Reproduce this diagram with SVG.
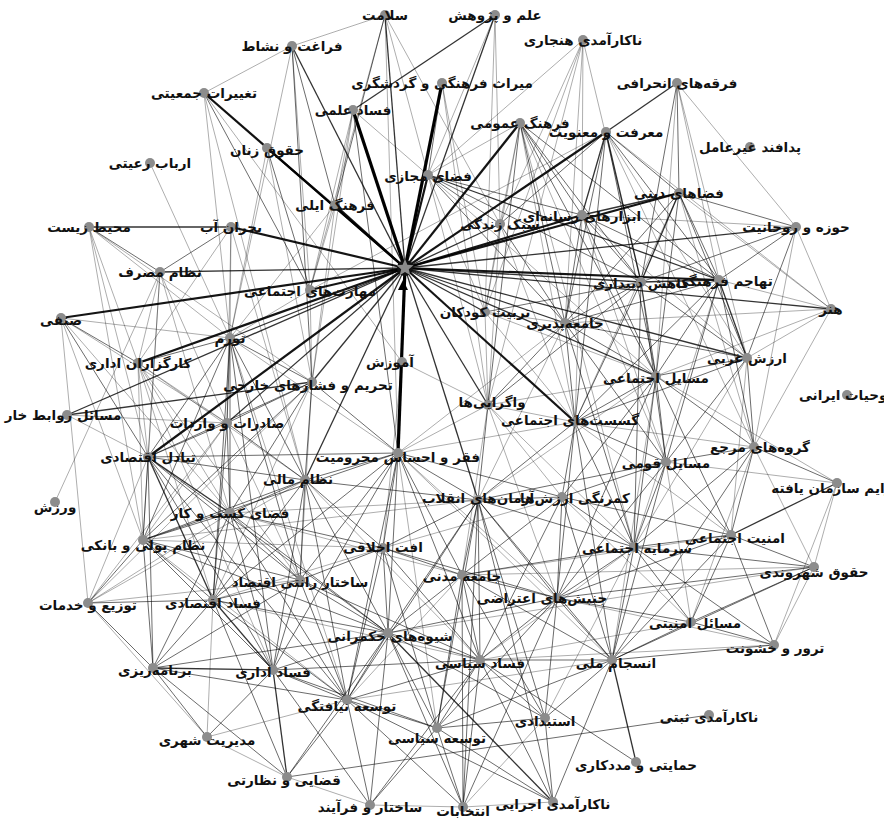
<svg xmlns="http://www.w3.org/2000/svg" width="884" height="821" viewBox="0 0 884 821">
<style>
.bg{fill:#fff}
#edges path{fill:none;stroke:#000}
.e0 path{stroke-opacity:.32;stroke-width:1}
.e1 path{stroke-opacity:.58;stroke-width:1}
.e2 path{stroke-opacity:.8;stroke-width:1.3}
.e3 path{stroke-opacity:.92;stroke-width:2.2}
.e4 path{stroke-opacity:1;stroke-width:3.2}
.nd circle{fill:#8c8c8c}
.nd text{font-family:"DejaVu Sans","Noto Sans",sans-serif;font-weight:bold;font-size:13.5px;fill:#111;text-anchor:middle}
</style>
<rect class="bg" x="0" y="0" width="884" height="821"/>
<g id="edges">
<g class="e0">
<path d="M385 15L292 46"/><path d="M385 15L310 290"/><path d="M385 15L428 175"/><path d="M385 15L398 453"/><path d="M385 15L500 224"/>
<path d="M495 15L428 175"/><path d="M495 15L500 224"/><path d="M495 15L485 312"/>
<path d="M292 46L204 93"/><path d="M292 46L230 338"/><path d="M292 46L310 290"/>
<path d="M583 40L428 175"/><path d="M583 40L500 224"/><path d="M583 40L485 312"/><path d="M583 40L565 323"/><path d="M583 40L582 215"/><path d="M583 40L488 405"/><path d="M583 40L641 282"/>
<path d="M204 93L267 148"/><path d="M204 93L230 338"/><path d="M204 93L305 480"/><path d="M204 93L402 362"/>
<path d="M442 83L488 405"/><path d="M442 83L485 312"/>
<path d="M677 83L719 280"/><path d="M677 83L796 227"/><path d="M677 83L747 358"/><path d="M677 83L656 376"/>
<path d="M353 110L335 205"/><path d="M353 110L310 290"/><path d="M353 110L312 382"/><path d="M353 110L428 175"/>
<path d="M520 123L428 175"/><path d="M520 123L500 224"/><path d="M520 123L485 312"/><path d="M520 123L575 422"/><path d="M520 123L666 462"/><path d="M520 123L634 547"/>
<path d="M606 132L747 358"/><path d="M606 132L754 447"/><path d="M606 132L831 309"/><path d="M606 132L310 290"/>
<path d="M267 148L335 205"/><path d="M267 148L312 382"/><path d="M267 148L230 338"/>
<path d="M150 163L230 338"/>
<path d="M428 175L485 312"/><path d="M428 175L488 405"/><path d="M428 175L656 376"/>
<path d="M335 205L310 290"/><path d="M335 205L230 338"/><path d="M335 205L312 382"/>
<path d="M679 193L831 309"/><path d="M679 193L754 447"/><path d="M679 193L575 422"/>
<path d="M582 215L747 358"/><path d="M582 215L575 422"/><path d="M582 215L666 462"/>
<path d="M500 224L485 312"/><path d="M500 224L488 405"/><path d="M500 224L575 422"/>
<path d="M796 227L831 309"/><path d="M796 227L754 447"/><path d="M796 227L582 215"/>
<path d="M89 227L138 363"/><path d="M89 227L148 457"/><path d="M89 227L143 540"/><path d="M89 227L312 382"/><path d="M89 227L230 338"/>
<path d="M231 227L230 338"/><path d="M231 227L138 363"/><path d="M231 227L305 480"/><path d="M231 227L227 423"/>
<path d="M160 272L138 363"/><path d="M160 272L148 457"/><path d="M160 272L230 513"/><path d="M160 272L143 540"/><path d="M160 272L55 502"/><path d="M160 272L227 423"/>
<path d="M310 290L230 338"/><path d="M310 290L312 382"/>
<path d="M719 280L831 309"/><path d="M719 280L634 547"/>
<path d="M831 309L747 358"/><path d="M831 309L754 447"/><path d="M831 309L565 323"/><path d="M831 309L656 376"/>
<path d="M61 318L227 423"/><path d="M61 318L230 513"/><path d="M61 318L143 540"/><path d="M61 318L88 603"/><path d="M61 318L230 338"/>
<path d="M485 312L565 323"/><path d="M485 312L488 405"/><path d="M485 312L575 422"/><path d="M485 312L656 376"/>
<path d="M565 323L398 453"/><path d="M565 323L478 500"/>
<path d="M230 338L347 700"/><path d="M230 338L398 453"/>
<path d="M747 358L634 547"/><path d="M747 358L731 535"/>
<path d="M138 363L227 423"/><path d="M138 363L148 457"/><path d="M138 363L230 513"/><path d="M138 363L143 540"/><path d="M138 363L213 600"/><path d="M138 363L305 480"/><path d="M138 363L300 580"/><path d="M138 363L273 670"/>
<path d="M402 362L488 405"/><path d="M402 362L383 548"/>
<path d="M312 382L300 580"/><path d="M312 382L213 600"/>
<path d="M656 376L488 405"/><path d="M656 376L478 500"/><path d="M656 376L612 660"/>
<path d="M67 415L148 457"/><path d="M67 415L227 423"/>
<path d="M488 405L575 422"/><path d="M488 405L398 453"/><path d="M488 405L562 497"/><path d="M488 405L634 547"/><path d="M488 405L462 575"/><path d="M488 405L557 598"/>
<path d="M227 423L143 540"/><path d="M227 423L300 580"/><path d="M227 423L88 603"/>
<path d="M575 422L731 535"/><path d="M575 422L398 453"/><path d="M575 422L754 447"/>
<path d="M148 457L88 603"/>
<path d="M398 453L557 598"/><path d="M398 453L612 660"/><path d="M398 453L437 728"/>
<path d="M754 447L814 567"/><path d="M754 447L691 622"/>
<path d="M666 462L691 622"/><path d="M666 462L837 483"/>
<path d="M305 480L480 660"/>
<path d="M478 500L230 513"/><path d="M478 500L143 540"/>
<path d="M562 497L383 548"/><path d="M562 497L691 622"/>
<path d="M837 483L814 567"/><path d="M837 483L656 376"/><path d="M837 483L774 645"/>
<path d="M230 513L462 575"/>
<path d="M143 540L347 700"/><path d="M143 540L383 548"/>
<path d="M731 535L462 575"/>
<path d="M383 548L213 600"/>
<path d="M634 547L480 660"/><path d="M634 547L545 718"/>
<path d="M814 567L774 645"/><path d="M814 567L462 575"/><path d="M814 567L388 633"/>
<path d="M462 575L347 700"/>
<path d="M88 603L230 513"/><path d="M88 603L305 480"/><path d="M88 603L300 580"/><path d="M88 603L312 382"/><path d="M88 603L207 737"/>
<path d="M213 600L207 737"/><path d="M213 600L480 660"/>
<path d="M557 598L774 645"/>
<path d="M691 622L480 660"/>
<path d="M774 645L480 660"/>
<path d="M612 660L347 700"/>
<path d="M347 700L207 737"/>
<path d="M545 718L463 807"/>
<path d="M207 737L287 777"/>
<path d="M287 777L370 805"/><path d="M370 805L463 807"/><path d="M463 807L553 802"/>
</g>
<g class="e1">
<path d="M385 15L335 205"/><path d="M292 46L335 205"/><path d="M292 46L312 382"/><path d="M204 93L310 290"/><path d="M442 83L428 175"/>
<path d="M677 83L679 193"/><path d="M677 83L641 282"/><path d="M353 110L398 453"/>
<path d="M520 123L582 215"/><path d="M520 123L719 280"/><path d="M520 123L641 282"/><path d="M520 123L565 323"/><path d="M520 123L656 376"/><path d="M520 123L488 405"/>
<path d="M606 132L679 193"/><path d="M606 132L500 224"/><path d="M606 132L719 280"/><path d="M606 132L565 323"/><path d="M606 132L656 376"/><path d="M606 132L575 422"/>
<path d="M267 148L310 290"/>
<path d="M428 175L582 215"/><path d="M428 175L500 224"/><path d="M428 175L641 282"/><path d="M428 175L565 323"/>
<path d="M679 193L719 280"/><path d="M679 193L796 227"/><path d="M679 193L747 358"/><path d="M679 193L565 323"/><path d="M679 193L656 376"/>
<path d="M582 215L719 280"/><path d="M582 215L641 282"/><path d="M582 215L565 323"/><path d="M582 215L656 376"/>
<path d="M500 224L565 323"/>
<path d="M796 227L719 280"/><path d="M796 227L641 282"/><path d="M796 227L747 358"/>
<path d="M89 227L160 272"/><path d="M231 227L160 272"/>
<path d="M719 280L565 323"/><path d="M719 280L656 376"/><path d="M719 280L754 447"/><path d="M719 280L575 422"/><path d="M719 280L666 462"/>
<path d="M641 282L565 323"/><path d="M641 282L747 358"/><path d="M641 282L656 376"/><path d="M641 282L575 422"/><path d="M641 282L666 462"/><path d="M641 282L485 312"/><path d="M641 282L634 547"/><path d="M641 282L488 405"/>
<path d="M61 318L138 363"/><path d="M61 318L148 457"/>
<path d="M565 323L656 376"/><path d="M565 323L488 405"/><path d="M565 323L575 422"/><path d="M565 323L666 462"/><path d="M565 323L634 547"/><path d="M565 323L747 358"/>
<path d="M230 338L138 363"/><path d="M230 338L312 382"/><path d="M230 338L227 423"/><path d="M230 338L148 457"/><path d="M230 338L305 480"/><path d="M230 338L230 513"/><path d="M230 338L143 540"/><path d="M230 338L300 580"/><path d="M230 338L213 600"/><path d="M230 338L273 670"/>
<path d="M747 358L656 376"/><path d="M747 358L754 447"/><path d="M747 358L666 462"/><path d="M747 358L575 422"/>
<path d="M312 382L227 423"/><path d="M312 382L148 457"/><path d="M312 382L398 453"/><path d="M312 382L305 480"/><path d="M312 382L230 513"/><path d="M312 382L143 540"/>
<path d="M656 376L575 422"/><path d="M656 376L754 447"/><path d="M656 376L666 462"/><path d="M656 376L634 547"/><path d="M656 376L731 535"/><path d="M656 376L562 497"/><path d="M656 376L557 598"/>
<path d="M488 405L478 500"/>
<path d="M227 423L148 457"/><path d="M227 423L305 480"/><path d="M227 423L230 513"/><path d="M227 423L213 600"/>
<path d="M575 422L666 462"/><path d="M575 422L478 500"/><path d="M575 422L562 497"/><path d="M575 422L634 547"/><path d="M575 422L557 598"/><path d="M575 422L612 660"/>
<path d="M148 457L305 480"/><path d="M148 457L143 540"/><path d="M148 457L300 580"/><path d="M148 457L153 668"/><path d="M148 457L273 670"/><path d="M148 457L347 700"/><path d="M148 457L398 453"/><path d="M148 457L388 633"/>
<path d="M398 453L305 480"/><path d="M398 453L478 500"/><path d="M398 453L562 497"/><path d="M398 453L383 548"/><path d="M398 453L300 580"/><path d="M398 453L462 575"/><path d="M398 453L213 600"/><path d="M398 453L388 633"/><path d="M398 453L480 660"/><path d="M398 453L347 700"/><path d="M398 453L143 540"/><path d="M398 453L273 670"/>
<path d="M754 447L666 462"/><path d="M754 447L731 535"/><path d="M754 447L837 483"/><path d="M754 447L634 547"/><path d="M754 447L612 660"/>
<path d="M666 462L562 497"/><path d="M666 462L731 535"/><path d="M666 462L634 547"/><path d="M666 462L557 598"/><path d="M666 462L612 660"/><path d="M666 462L478 500"/>
<path d="M305 480L230 513"/><path d="M305 480L143 540"/><path d="M305 480L383 548"/><path d="M305 480L300 580"/><path d="M305 480L213 600"/><path d="M305 480L388 633"/><path d="M305 480L273 670"/><path d="M305 480L347 700"/><path d="M305 480L478 500"/>
<path d="M478 500L562 497"/><path d="M478 500L383 548"/><path d="M478 500L634 547"/><path d="M478 500L462 575"/><path d="M478 500L557 598"/><path d="M478 500L388 633"/><path d="M478 500L612 660"/><path d="M478 500L480 660"/><path d="M478 500L545 718"/><path d="M478 500L437 728"/><path d="M478 500L463 807"/><path d="M478 500L553 802"/><path d="M478 500L347 700"/>
<path d="M562 497L731 535"/><path d="M562 497L634 547"/><path d="M562 497L462 575"/><path d="M562 497L557 598"/><path d="M562 497L612 660"/><path d="M562 497L480 660"/>
<path d="M230 513L143 540"/><path d="M230 513L300 580"/><path d="M230 513L213 600"/><path d="M230 513L388 633"/><path d="M230 513L153 668"/><path d="M230 513L273 670"/><path d="M230 513L347 700"/><path d="M230 513L383 548"/>
<path d="M143 540L300 580"/><path d="M143 540L88 603"/><path d="M143 540L213 600"/><path d="M143 540L153 668"/><path d="M143 540L273 670"/><path d="M143 540L388 633"/>
<path d="M731 535L634 547"/><path d="M731 535L814 567"/><path d="M731 535L557 598"/><path d="M731 535L691 622"/><path d="M731 535L774 645"/><path d="M731 535L612 660"/>
<path d="M383 548L300 580"/><path d="M383 548L462 575"/><path d="M383 548L388 633"/><path d="M383 548L480 660"/><path d="M383 548L347 700"/><path d="M383 548L437 728"/><path d="M383 548L557 598"/>
<path d="M634 547L814 567"/><path d="M634 547L462 575"/><path d="M634 547L557 598"/><path d="M634 547L691 622"/><path d="M634 547L774 645"/><path d="M634 547L612 660"/>
<path d="M300 580L213 600"/><path d="M300 580L388 633"/><path d="M300 580L153 668"/><path d="M300 580L273 670"/><path d="M300 580L347 700"/><path d="M300 580L480 660"/>
<path d="M814 567L557 598"/><path d="M814 567L691 622"/><path d="M814 567L612 660"/>
<path d="M462 575L557 598"/><path d="M462 575L388 633"/><path d="M462 575L480 660"/><path d="M462 575L612 660"/><path d="M462 575L545 718"/><path d="M462 575L437 728"/><path d="M462 575L463 807"/>
<path d="M88 603L213 600"/><path d="M88 603L153 668"/>
<path d="M213 600L388 633"/><path d="M213 600L153 668"/><path d="M213 600L347 700"/><path d="M213 600L287 777"/>
<path d="M557 598L691 622"/><path d="M557 598L612 660"/><path d="M557 598L480 660"/><path d="M557 598L545 718"/><path d="M557 598L437 728"/><path d="M557 598L463 807"/><path d="M557 598L388 633"/>
<path d="M691 622L774 645"/><path d="M691 622L612 660"/>
<path d="M388 633L480 660"/><path d="M388 633L273 670"/><path d="M388 633L347 700"/><path d="M388 633L545 718"/><path d="M388 633L437 728"/><path d="M388 633L287 777"/><path d="M388 633L370 805"/><path d="M388 633L463 807"/><path d="M388 633L153 668"/>
<path d="M774 645L612 660"/>
<path d="M612 660L480 660"/><path d="M612 660L545 718"/><path d="M612 660L437 728"/><path d="M612 660L553 802"/>
<path d="M480 660L347 700"/><path d="M480 660L545 718"/><path d="M480 660L437 728"/><path d="M480 660L370 805"/><path d="M480 660L463 807"/><path d="M480 660L553 802"/><path d="M480 660L273 670"/>
<path d="M153 668L207 737"/><path d="M153 668L287 777"/><path d="M153 668L347 700"/>
<path d="M273 670L347 700"/><path d="M273 670L207 737"/><path d="M273 670L370 805"/><path d="M273 670L437 728"/>
<path d="M347 700L437 728"/><path d="M347 700L287 777"/><path d="M347 700L370 805"/><path d="M347 700L463 807"/><path d="M347 700L553 802"/>
<path d="M709 715L287 777"/>
<path d="M545 718L437 728"/><path d="M545 718L553 802"/>
<path d="M437 728L370 805"/><path d="M437 728L463 807"/><path d="M437 728L553 802"/>
<path d="M636 762L480 660"/>
</g>
<g class="e2">
<path d="M405 268L385 15"/><path d="M405 268L292 46"/><path d="M405 268L160 272"/><path d="M405 268L641 282"/><path d="M405 268L565 323"/>
<path d="M405 268L796 227"/><path d="M405 268L656 376"/><path d="M405 268L488 405"/><path d="M405 268L230 338"/><path d="M405 268L312 382"/>
<path d="M405 268L227 423"/><path d="M405 268L67 415"/><path d="M405 268L305 480"/><path d="M405 268L485 312"/><path d="M405 268L500 224"/>
<path d="M405 268L747 358"/><path d="M405 268L495 15"/><path d="M405 268L478 500"/><path d="M405 268L831 309"/>
<path d="M495 15L353 110"/><path d="M677 83L606 132"/><path d="M89 227L231 227"/><path d="M606 132L582 215"/><path d="M679 193L582 215"/>
<path d="M679 193L641 282"/><path d="M719 280L641 282"/><path d="M719 280L747 358"/><path d="M428 175L719 280"/><path d="M606 132L641 282"/>
<path d="M67 415L312 382"/><path d="M148 457L230 513"/><path d="M148 457L213 600"/><path d="M837 483L731 535"/><path d="M213 600L273 670"/>
<path d="M388 633L553 802"/><path d="M612 660L636 762"/><path d="M153 668L273 670"/><path d="M273 670L287 777"/>
</g>
<g class="e3">
<path d="M405 268L204 93"/><path d="M405 268L267 148"/><path d="M405 268L520 123"/><path d="M405 268L606 132"/><path d="M405 268L679 193"/>
<path d="M405 268L582 215"/><path d="M405 268L231 227"/><path d="M405 268L61 318"/><path d="M405 268L335 205"/><path d="M405 268L428 175"/>
<path d="M405 268L138 363"/><path d="M405 268L148 457"/><path d="M405 268L310 290"/><path d="M405 268L575 422"/><path d="M405 268L719 280"/>
</g>
<g class="e4">
<path d="M405 268L353 110"/><path d="M405 268L442 83"/><path d="M405 268L398 453"/>
</g>
</g>
<g id="hub" class="nd">
<circle cx="405" cy="268" r="8" style="fill:#111"/>
<polygon points="405,259 407.35,264.76 413.56,265.22 408.8,269.24 410.29,275.28 405,272 399.71,275.28 401.2,269.24 396.44,265.22 402.65,264.76" fill="#8c8c8c"/>
<polygon points="403,280 398,290 408,290" fill="#000"/>
</g>
<g id="n1" class="nd"><circle cx="385" cy="15" r="5"/><text x="385" y="20">سلامت</text></g>
<g id="n2" class="nd"><circle cx="495" cy="15" r="5"/><text x="495" y="20">علم و پژوهش</text></g>
<g id="n3" class="nd"><circle cx="292" cy="46" r="5"/><text x="292" y="51">فراغت و نشاط</text></g>
<g id="n4" class="nd"><circle cx="583" cy="40" r="5"/><text x="583" y="45">ناکارآمدی هنجاری</text></g>
<g id="n5" class="nd"><circle cx="204" cy="93" r="5"/><text x="204" y="98">تغییرات جمعیتی</text></g>
<g id="n6" class="nd"><circle cx="442" cy="83" r="5"/><text x="442" y="88">میراث فرهنگی و گردشگری</text></g>
<g id="n7" class="nd"><circle cx="677" cy="83" r="5"/><text x="677" y="88">فرقه‌های انحرافی</text></g>
<g id="n8" class="nd"><circle cx="353" cy="110" r="5"/><text x="353" y="115">فساد علمی</text></g>
<g id="n9" class="nd"><circle cx="520" cy="123" r="5"/><text x="520" y="128">فرهنگ عمومی</text></g>
<g id="n10" class="nd"><circle cx="606" cy="132" r="5"/><text x="606" y="137">معرفت و معنویت</text></g>
<g id="n11" class="nd"><circle cx="267" cy="148" r="5"/><text x="267" y="155">حقوق زنان</text></g>
<g id="n12" class="nd"><circle cx="150" cy="163" r="5"/><text x="150" y="168">ارباب رعیتی</text></g>
<g id="n13" class="nd"><circle cx="750" cy="147" r="5"/><text x="750" y="152">پدافند غیرعامل</text></g>
<g id="n14" class="nd"><circle cx="428" cy="175" r="5"/><text x="428" y="181">فضای مجازی</text></g>
<g id="n15" class="nd"><circle cx="335" cy="205" r="5"/><text x="335" y="210">فرهنگ ایلی</text></g>
<g id="n16" class="nd"><circle cx="679" cy="193" r="5"/><text x="679" y="198">فضاهای دینی</text></g>
<g id="n17" class="nd"><circle cx="582" cy="215" r="5"/><text x="582" y="221">ابزارهای رسانه‌ای</text></g>
<g id="n18" class="nd"><circle cx="500" cy="224" r="5"/><text x="500" y="229">سبک زندگی</text></g>
<g id="n19" class="nd"><circle cx="796" cy="227" r="5"/><text x="796" y="232">حوزه و روحانیت</text></g>
<g id="n20" class="nd"><circle cx="89" cy="227" r="5"/><text x="89" y="232">محیط زیست</text></g>
<g id="n21" class="nd"><circle cx="231" cy="227" r="5"/><text x="231" y="232">بحران آب</text></g>
<g id="n22" class="nd"><circle cx="160" cy="272" r="5"/><text x="160" y="277">نظام مصرف</text></g>
<g id="n23" class="nd"><circle cx="310" cy="290" r="5"/><text x="310" y="296">مهارت‌های اجتماعی</text></g>
<g id="n24" class="nd"><circle cx="719" cy="280" r="5"/><text x="724" y="286">تهاجم فرهنگی</text></g>
<g id="n25" class="nd"><circle cx="641" cy="282" r="5"/><text x="641" y="288">کاهش دینداری</text></g>
<g id="n26" class="nd"><circle cx="831" cy="309" r="5"/><text x="831" y="314">هنر</text></g>
<g id="n27" class="nd"><circle cx="61" cy="318" r="5"/><text x="61" y="325">صنفی</text></g>
<g id="n28" class="nd"><circle cx="485" cy="312" r="5"/><text x="485" y="317">تربیت کودکان</text></g>
<g id="n29" class="nd"><circle cx="565" cy="323" r="5"/><text x="565" y="328">جامعه‌پذیری</text></g>
<g id="n30" class="nd"><circle cx="230" cy="338" r="5"/><text x="230" y="343">تورم</text></g>
<g id="n31" class="nd"><circle cx="747" cy="358" r="5"/><text x="747" y="363">ارزش غربی</text></g>
<g id="n32" class="nd"><circle cx="138" cy="363" r="5"/><text x="138" y="368">کارگزاران اداری</text></g>
<g id="n33" class="nd"><circle cx="402" cy="362" r="5"/><text x="390" y="367">آموزش</text></g>
<g id="n34" class="nd"><circle cx="312" cy="382" r="5"/><text x="308" y="390">تحریم و فشارهای خارجی</text></g>
<g id="n35" class="nd"><circle cx="656" cy="376" r="5"/><text x="656" y="383">مسایل اجتماعی</text></g>
<g id="n36" class="nd"><circle cx="847" cy="395" r="5"/><text x="847" y="400">روحیات ایرانی</text></g>
<g id="n37" class="nd"><circle cx="67" cy="415" r="5"/><text x="63" y="420">مسائل روابط خار</text></g>
<g id="n38" class="nd"><circle cx="488" cy="405" r="5"/><text x="492" y="407">واگرایی‌ها</text></g>
<g id="n39" class="nd"><circle cx="227" cy="423" r="5"/><text x="227" y="428">صادرات و واردات</text></g>
<g id="n40" class="nd"><circle cx="575" cy="422" r="5"/><text x="570" y="425">گسست‌های اجتماعی</text></g>
<g id="n41" class="nd"><circle cx="148" cy="457" r="5"/><text x="148" y="462">تبادل اقتصادی</text></g>
<g id="n42" class="nd"><circle cx="398" cy="453" r="5"/><text x="398" y="462">فقر و احساس محرومیت</text></g>
<g id="n43" class="nd"><circle cx="754" cy="447" r="5"/><text x="760" y="452">گروه‌های مرجع</text></g>
<g id="n44" class="nd"><circle cx="666" cy="462" r="5"/><text x="666" y="468">مسایل قومی</text></g>
<g id="n45" class="nd"><circle cx="305" cy="480" r="5"/><text x="298" y="484">نظام مالی</text></g>
<g id="n46" class="nd"><circle cx="478" cy="500" r="5"/><text x="478" y="503">آرمان‌های انقلاب</text></g>
<g id="n47" class="nd"><circle cx="562" cy="497" r="5"/><text x="575" y="503">کمرنگی ارزش‌ها</text></g>
<g id="n48" class="nd"><circle cx="837" cy="483" r="5"/><text x="837" y="493">جرایم سازمان یافته</text></g>
<g id="n49" class="nd"><circle cx="230" cy="513" r="5"/><text x="230" y="518">فضای کسب و کار</text></g>
<g id="n50" class="nd"><circle cx="55" cy="502" r="5"/><text x="55" y="512">ورزش</text></g>
<g id="n51" class="nd"><circle cx="143" cy="540" r="5"/><text x="143" y="550">نظام پولی و بانکی</text></g>
<g id="n52" class="nd"><circle cx="731" cy="535" r="5"/><text x="735" y="543">امنیت اجتماعی</text></g>
<g id="n53" class="nd"><circle cx="383" cy="548" r="5"/><text x="383" y="552">افت اخلاقی</text></g>
<g id="n54" class="nd"><circle cx="634" cy="547" r="5"/><text x="637" y="553">سرمایه اجتماعی</text></g>
<g id="n55" class="nd"><circle cx="300" cy="580" r="5"/><text x="300" y="587">ساختار رانتی اقتصاد</text></g>
<g id="n56" class="nd"><circle cx="814" cy="567" r="5"/><text x="814" y="577">حقوق شهروندی</text></g>
<g id="n57" class="nd"><circle cx="462" cy="575" r="5"/><text x="462" y="581">جامعه مدنی</text></g>
<g id="n58" class="nd"><circle cx="88" cy="603" r="5"/><text x="88" y="610">توزیع و خدمات</text></g>
<g id="n59" class="nd"><circle cx="213" cy="600" r="5"/><text x="213" y="608">فساد اقتصادی</text></g>
<g id="n60" class="nd"><circle cx="557" cy="598" r="5"/><text x="542" y="603">جنبش‌های اعتراضی</text></g>
<g id="n61" class="nd"><circle cx="691" cy="622" r="5"/><text x="695" y="628">مسائل امنیتی</text></g>
<g id="n62" class="nd"><circle cx="388" cy="633" r="5"/><text x="390" y="641">شیوه‌های حکمرانی</text></g>
<g id="n63" class="nd"><circle cx="774" cy="645" r="5"/><text x="775" y="653">ترور و خشونت</text></g>
<g id="n64" class="nd"><circle cx="612" cy="660" r="5"/><text x="616" y="668">انسجام ملی</text></g>
<g id="n65" class="nd"><circle cx="480" cy="660" r="5"/><text x="480" y="668">فساد سیاسی</text></g>
<g id="n66" class="nd"><circle cx="153" cy="668" r="5"/><text x="155" y="675">برنامه‌ریزی</text></g>
<g id="n67" class="nd"><circle cx="273" cy="670" r="5"/><text x="273" y="677">فساد اداری</text></g>
<g id="n68" class="nd"><circle cx="347" cy="700" r="5"/><text x="347" y="711">توسعه نیافتگی</text></g>
<g id="n69" class="nd"><circle cx="709" cy="715" r="5"/><text x="709" y="722">ناکارآمدی ثبتی</text></g>
<g id="n70" class="nd"><circle cx="545" cy="718" r="5"/><text x="545" y="726">استبدادی</text></g>
<g id="n71" class="nd"><circle cx="207" cy="737" r="5"/><text x="207" y="745">مدیریت شهری</text></g>
<g id="n72" class="nd"><circle cx="437" cy="728" r="5"/><text x="437" y="743">توسعه سیاسی</text></g>
<g id="n73" class="nd"><circle cx="636" cy="762" r="5"/><text x="636" y="770">حمایتی و مددکاری</text></g>
<g id="n74" class="nd"><circle cx="287" cy="777" r="5"/><text x="284" y="785">قضایی و نظارتی</text></g>
<g id="n75" class="nd"><circle cx="370" cy="805" r="5"/><text x="370" y="812">ساختار و فرآیند</text></g>
<g id="n76" class="nd"><circle cx="463" cy="807" r="5"/><text x="463" y="816">انتخابات</text></g>
<g id="n77" class="nd"><circle cx="553" cy="802" r="5"/><text x="553" y="809">ناکارآمدی اجرایی</text></g>
</svg>
